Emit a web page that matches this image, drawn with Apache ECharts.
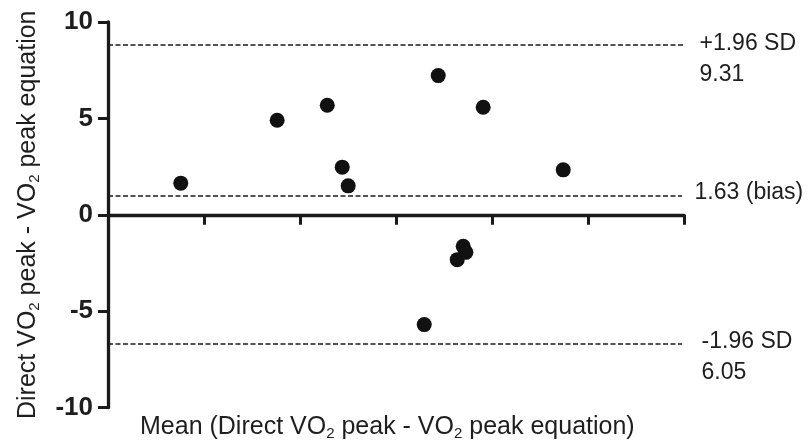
<!DOCTYPE html>
<html>
<head>
<meta charset="utf-8">
<script src="https://cdn.jsdelivr.net/npm/echarts@6/dist/echarts.min.js"></script>
<style>
html,body{margin:0;padding:0;background:#fff;}
#c{width:812px;height:448px;}
</style>
</head>
<body>
<div id="c"></div>
<script>
// ---- data ----
var meanX = [23.79, 28.81, 31.42, 32.20, 32.51, 37.20, 39.54, 43.71, 38.50, 38.64, 38.19, 36.47];
var diffY = [1.64, 4.90, 5.68, 2.47, 1.50, 7.22, 5.58, 2.33, -1.64, -1.95, -2.33, -5.70];

var limitLevels = [8.8, 1.0, -6.68];          // drawn y-level of the dashed lines
var limitEndX = [50.0, 49.9, 49.9];           // where each dashed line ends
var limitLabels = ['+1.96 SD\n9.31', '1.63 (bias)', '-1.96 SD\n6.05'];

var yTicks = [-10, -5, 0, 5, 10];
var xMin = 20, xMax = 50, xStep = 5;

var yName = '{a|Direct VO}{s|2}{a| peak - VO}{s|2}{a| peak equation}';
var xName = '{a|Mean (Direct VO}{s|2}{a| peak - VO}{s|2}{a| peak equation)}';

// ---- chart ----
var points = meanX.map(function (x, i) { return [x, diffY[i]]; });
var labelPos = [[16, -16], [13, -17.5], [20, -16.5]];
var lines = limitLevels.map(function (y, i) {
  return [{ coord: [xMin, y] }, { coord: [limitEndX[i], y] }];
});
var labelPts = limitLevels.map(function (y, i) {
  return {
    value: [limitEndX[i], y],
    label: { formatter: limitLabels[i], position: labelPos[i] }
  };
});

var FONT = '"Liberation Sans", Arial, sans-serif';
var TXT = '#1e1e1e';

var chart = echarts.init(document.getElementById('c'), null, { renderer: 'canvas' });
chart.setOption({
  animation: false,
  backgroundColor: '#fff',
  grid: { left: 108, right: 128, top: 22, bottom: 40.5, containLabel: false },
  xAxis: {
    type: 'value', min: xMin, max: xMax, interval: xStep,
    axisLine: { onZero: true, lineStyle: { color: '#1a1a1a', width: 3.3 } },
    axisTick: { show: true, inside: false, length: 10, lineStyle: { color: '#1a1a1a', width: 3 } },
    axisLabel: { show: false },
    splitLine: { show: false }
  },
  yAxis: {
    type: 'value', min: yTicks[0], max: yTicks[yTicks.length - 1], interval: 5,
    axisLine: { show: true, onZero: false, lineStyle: { color: '#1a1a1a', width: 3.3 } },
    axisTick: { show: true, inside: false, length: 10, lineStyle: { color: '#1a1a1a', width: 3 } },
    axisLabel: { show: true, margin: 15, fontSize: 26, fontWeight: 'bold', fontFamily: FONT, color: TXT },
    splitLine: { show: false },
    name: yName,
    nameLocation: 'middle',
    nameRotate: 90,
    nameGap: 66,
    nameTextStyle: {
      fontFamily: FONT, color: TXT, fontSize: 25,
      rich: {
        a: { fontFamily: FONT, color: TXT, fontSize: 25 },
        s: { fontFamily: FONT, color: TXT, fontSize: 15, padding: [12, 0, 0, 0] }
      }
    }
  },
  graphic: [{
    type: 'text', left: 140, top: 415,
    style: {
      text: xName, fill: TXT, font: '25px ' + FONT,
      rich: {
        a: { fontFamily: FONT, fill: TXT, fontSize: 25 },
        s: { fontFamily: FONT, fill: TXT, fontSize: 15, padding: [12, 0, 0, 0] }
      }
    }
  }],
  series: [{
    type: 'scatter',
    data: points,
    symbol: 'circle',
    symbolSize: 15,
    itemStyle: { color: '#111', opacity: 1 },
    markLine: {
      silent: true,
      symbol: ['none', 'none'],
      label: { show: false },
      lineStyle: { color: '#1a1a1a', type: [5, 2.5], width: 1.5, opacity: 1 },
      data: lines
    }
  }, {
    type: 'scatter',
    data: labelPts,
    symbolSize: 1,
    silent: true,
    clip: false,
    itemStyle: { color: 'rgba(255,255,255,0)', opacity: 1 },
    labelLayout: { hideOverlap: false },
    label: {
      show: true, align: 'left', verticalAlign: 'top',
      fontSize: 23, fontFamily: FONT, color: TXT, lineHeight: 31
    }
  }]
});
</script>
</body>
</html>
